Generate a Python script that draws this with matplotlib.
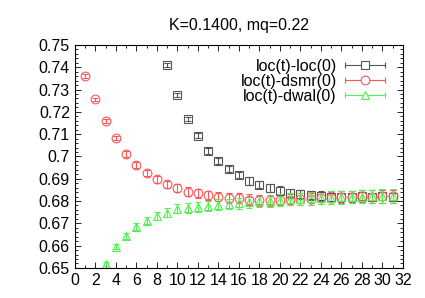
import numpy as np
import matplotlib.pyplot as plt
from matplotlib.ticker import MultipleLocator
from matplotlib.legend_handler import HandlerBase
from matplotlib.lines import Line2D

plt.rcParams['font.family'] = 'Liberation Sans'

# data
t_loc = np.arange(9, 32)
v_loc = [0.7409, 0.7274, 0.7168, 0.7092, 0.7025, 0.6981, 0.6944, 0.6917, 0.6890,
         0.6874, 0.6857, 0.6847, 0.6835, 0.6830, 0.6825, 0.6822, 0.6820, 0.6820,
         0.6820, 0.6821, 0.6820, 0.6821, 0.6820]
e_loc = [0.0008, 0.0009, 0.0010, 0.0011, 0.0012, 0.0013, 0.0014, 0.0015, 0.0016,
         0.0017, 0.0018, 0.0019, 0.0020, 0.0021, 0.0022, 0.0023, 0.0024, 0.0025,
         0.0026, 0.0027, 0.0028, 0.0029, 0.0030]

t_dsmr = np.arange(1, 32)
v_dsmr = [0.7361, 0.7256, 0.7161, 0.7082, 0.7011, 0.6963, 0.6926, 0.6898, 0.6875,
          0.6857, 0.6842, 0.6835, 0.6826, 0.6820, 0.6813, 0.6812, 0.6806, 0.6803,
          0.6803, 0.6806, 0.6806, 0.6810, 0.6810, 0.6815, 0.6813, 0.6817, 0.6818,
          0.6822, 0.6820, 0.6822, 0.6822]
e_dsmr = [0.0007, 0.0008, 0.0009, 0.0010, 0.0012, 0.0013, 0.0015, 0.0016, 0.0017,
          0.0018, 0.0019, 0.0020, 0.0021, 0.0022, 0.0022, 0.0023, 0.0024, 0.0024,
          0.0025, 0.0025, 0.0026, 0.0026, 0.0027, 0.0027, 0.0027, 0.0028, 0.0028,
          0.0028, 0.0029, 0.0029, 0.0029]

t_dwal = np.arange(3, 32)
v_dwal = [0.6517, 0.6596, 0.6644, 0.6685, 0.6712, 0.6734, 0.6748, 0.6765, 0.6769,
          0.6775, 0.6778, 0.6783, 0.6787, 0.6790, 0.6795, 0.6798, 0.6800, 0.6805,
          0.6807, 0.6810, 0.6812, 0.6814, 0.6815, 0.6817, 0.6818, 0.6820, 0.6821,
          0.6822, 0.6822]
e_dwal = [0.0010, 0.0012, 0.0013, 0.0015, 0.0016, 0.0018, 0.0019, 0.0020, 0.0021,
          0.0022, 0.0023, 0.0024, 0.0024, 0.0025, 0.0025, 0.0026, 0.0026, 0.0027,
          0.0027, 0.0027, 0.0028, 0.0028, 0.0028, 0.0029, 0.0029, 0.0029, 0.0030,
          0.0030, 0.0030]


# gnuplot-like key sample: horizontal line with end caps and the point in the middle
class ErrKeyHandler(HandlerBase):
    def create_artists(self, legend, orig, xd, yd, width, height, fontsize, trans):
        c = orig.get_color()
        y = height / 2.0 - yd
        x0, x1 = -xd, -xd + width
        line = Line2D([x0, x1], [y, y], color=c, lw=0.8, transform=trans)
        caps = Line2D([x0, x1], [y, y], color=c, lw=0, marker='|', markersize=4,
                      markeredgewidth=0.8, transform=trans)
        mid = Line2D([(x0 + x1) / 2], [y], color=c, lw=0, marker=orig.get_marker(),
                     markersize=orig.get_markersize(), markerfacecolor='white',
                     markeredgewidth=0.8, transform=trans)
        return [line, caps, mid]


fig = plt.figure(figsize=(4.25, 2.98), dpi=100)
ax = fig.add_axes([0.176, 0.101, 0.772, 0.748])

msize = 6.3
style = dict(linestyle='none', markerfacecolor='none', capsize=2.0,
             elinewidth=0.8, capthick=0.8, markeredgewidth=0.8, markersize=msize)
handles = []
for t, v, e, m, c, lab in [(t_loc, v_loc, e_loc, 's', '#555555', 'loc(t)-loc(0)'),
                           (t_dsmr, v_dsmr, e_dsmr, 'o', '#ff5555', 'loc(t)-dsmr(0)'),
                           (t_dwal, v_dwal, e_dwal, '^', '#55ee55', 'loc(t)-dwal(0)')]:
    ax.errorbar(t, v, yerr=e, marker=m, color=c, **style)
    handles.append(Line2D([], [], color=c, marker=m, markersize=msize, label=lab))

ax.set_xlim(0, 32)
ax.set_ylim(0.65, 0.75)
ax.xaxis.set_major_locator(MultipleLocator(2))
ax.xaxis.set_minor_locator(MultipleLocator(1))
ax.yaxis.set_major_locator(MultipleLocator(0.01))
ax.yaxis.set_minor_locator(MultipleLocator(0.002))
ax.yaxis.set_major_formatter(plt.FuncFormatter(lambda v, p: ('%.2f' % v).rstrip('0')))
ax.tick_params(which='both', direction='in', top=True, right=True, labelsize=11.5)
ax.tick_params(which='major', length=4, width=0.6)
ax.tick_params(which='minor', length=2.5, width=0.6)
for s in ax.spines.values():
    s.set_linewidth(0.8)

ax.set_title('K=0.1400, mq=0.22', fontsize=11.5, pad=11)

ax.legend(handles=handles, handler_map={Line2D: ErrKeyHandler()}, loc='upper right',
          markerfirst=False, frameon=False, fontsize=11.5, handlelength=2.5,
          handletextpad=0.5, labelspacing=0.0, borderaxespad=0.0, borderpad=0.0,
          bbox_to_anchor=(0.945, 0.937))

fig.savefig('out.png', dpi=100)
